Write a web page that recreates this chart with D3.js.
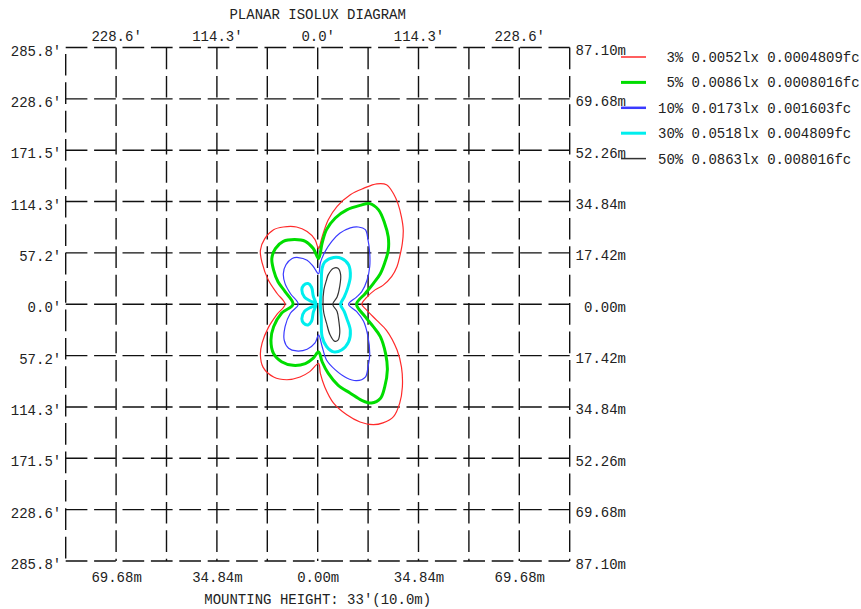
<!DOCTYPE html>
<html><head><meta charset="utf-8">
<script src="https://cdn.jsdelivr.net/npm/d3@7"></script>
<style>
html,body{margin:0;padding:0;background:#fff;}
svg{display:block;font-family:"Liberation Mono","Courier New",monospace;font-size:14px;}
text{fill:#222;white-space:pre;}
</style></head><body>
<svg id="chart" width="861" height="609"></svg>
<script>
// ---- data (feet) ----
const gridX = [-285.75,-228.6,-171.45,-114.3,-57.15,0,57.15,114.3,171.45,228.6,285.75];
const gridY = [285.75,228.6,171.45,114.3,57.15,0,-57.15,-114.3,-171.45,-228.6,-285.75];
const leftLabels = ["285.8'","228.6'","171.5'","114.3'","57.2'","0.0'","57.2'","114.3'","171.5'","228.6'","285.8'"];
const rightLabels = ["87.10m","69.68m","52.26m","34.84m","17.42m","0.00m","17.42m","34.84m","52.26m","69.68m","87.10m"];
const topTickFeet = [-228.6,-114.3,0,114.3,228.6];
const topLabels = ["228.6'","114.3'","0.0'","114.3'","228.6'"];
const bottomLabels = ["69.68m","34.84m","0.00m","34.84m","69.68m"];
const titleText = "PLANAR ISOLUX DIAGRAM";
const footerText = "MOUNTING HEIGHT: 33'(10.0m)";
const legendTexts = [" 3% 0.0052lx 0.0004809fc"," 5% 0.0086lx 0.0008016fc","10% 0.0173lx 0.001603fc","30% 0.0518lx 0.004809fc","50% 0.0863lx 0.008016fc"];

const contour3 = [[50,0],[55,7],[65,16],[74,21],[84,31],[90,42],[93,53],[96,68],[97,83],[95,97],[91,112],[86,123],[78,133],[67,134],[52,129],[37,122],[22,109],[12,94],[5,75],[1,62],[-3,72],[-12,81],[-24,86],[-39,86],[-50,83],[-60,73],[-65,60],[-63,46],[-56,27],[-46,12],[-37,0],[-46,-11],[-56,-26],[-63,-43],[-65,-56],[-62,-70],[-50,-81],[-35,-84],[-20,-81],[-9,-75],[1,-66],[3,-77],[8,-92],[18,-110],[33,-123],[48,-131],[63,-134],[74,-132],[86,-125],[93,-110],[96,-92],[95,-70],[90,-51],[78,-29],[67,-18],[55,-6]];
const contour5 = [[44,0],[54,12],[63,23],[71,34],[76,46],[80,60],[80,75],[76,90],[69,105],[59,112],[48,110],[33,105],[20,96],[10,83],[5,68],[1,51],[-5,62],[-14,70],[-26,72],[-39,70],[-48,62],[-52,51],[-50,38],[-45,25],[-37,14],[-28,0],[-41,-10],[-50,-25],[-53,-40],[-50,-55],[-41,-64],[-28,-68],[-14,-66],[-5,-60],[1,-53],[5,-64],[12,-77],[23,-90],[37,-99],[50,-107],[61,-110],[71,-105],[76,-92],[79,-73],[77,-55],[71,-36],[63,-25],[54,-14]];
const contour10 = [[35,0],[44,8],[50,14],[56,27],[59,42],[59,57],[57,72],[54,83],[46,86],[37,85],[25,79],[16,70],[8,58],[3,46],[1,34],[-5,42],[-12,49],[-22,52],[-29,51],[-36,44],[-39,34],[-37,23],[-31,12],[-22,0],[-31,-10],[-37,-25],[-38,-40],[-33,-49],[-24,-52],[-12,-50],[-3,-43],[1,-34],[5,-47],[10,-62],[20,-73],[33,-82],[44,-85],[54,-81],[57,-70],[59,-55],[57,-36],[52,-19],[44,-8]];
const contour30a = [[8,47],[18,52],[27,51],[35,44],[37,31],[34,18],[30,8],[26,0],[30,-8],[33,-16],[37,-29],[35,-42],[27,-51],[18,-53],[10,-47],[5,-36],[4,-14],[3,0],[4,16],[5,40]];
const contour30b = [[-2,0],[-5,9],[-7,19],[-11,23],[-16,21],[-18,16],[-15,8],[-9,4],[-2,0],[-9,-4],[-15,-8],[-18,-16],[-16,-21],[-11,-23],[-7,-19],[-5,-9]];
const contour50 = [[12,33],[18,40],[23,40],[26,33],[25,20],[22,8],[17,0],[22,-8],[24,-19],[25,-32],[23,-40],[19,-41],[14,-34],[10,-21],[7,-10],[6,0],[7,16],[10,27]];

// ---- styles ----
const levelColors = ["#ff2a2a","#00dd00","#3a3aff","#00eeee","#333333"];
const levelWidths = [1.2,3,1.2,3,1.2];
const legendWidths = [1.5,3,2.5,3,1.5];
const contourSets = [[contour3],[contour5],[contour10],[contour30a,contour30b],[contour50]];

const svg = d3.select("#chart");
const x = d3.scaleLinear().domain([-285.75,285.75]).range([65.7,569.7]);
const y = d3.scaleLinear().domain([285.75,-285.75]).range([47.5,561]);

// grid
const dash = "21.7,6.7";
svg.append("g").selectAll("line").data(gridY).join("line")
  .attr("x1",x(-285.75)).attr("x2",x(285.75))
  .attr("y1",d=>y(d)).attr("y2",d=>y(d))
  .attr("stroke","#111").attr("stroke-width",1.4).attr("stroke-dasharray",dash);
svg.append("g").selectAll("line").data(gridX).join("line")
  .attr("x1",d=>x(d)).attr("x2",d=>x(d))
  .attr("y1",y(285.75)).attr("y2",y(-285.75))
  .attr("stroke","#111").attr("stroke-width",1.4).attr("stroke-dasharray",dash)
  .attr("stroke-dashoffset",(d,i)=> i===0 ? 22 : 0);

// contours
const line = d3.line().x(d=>x(d[0])).y(d=>y(d[1])).curve(d3.curveCatmullRomClosed.alpha(0.5));
contourSets.forEach((set,i)=>{
  set.forEach(c=>{
    svg.append("path").attr("d",line(c)).attr("fill","none")
      .attr("stroke",levelColors[i]).attr("stroke-width",levelWidths[i])
      .attr("stroke-linejoin","round");
  });
});

// axes labels
const leftAxis = d3.axisLeft(y).tickValues(gridY).tickSize(0).tickPadding(0)
  .tickFormat((d,i)=>leftLabels[i]);
const gl = svg.append("g").attr("transform",`translate(${x(-285.75)-4.5},0)`).call(leftAxis);
gl.select(".domain").remove();
gl.selectAll("text").attr("dy","0.54em").attr("font-family",null).attr("font-size",null);
gl.attr("font-family",null).attr("font-size",null);

svg.append("g").selectAll("text").data(gridY).join("text")
  .attr("x",626).attr("y",d=>y(d)+7.5).attr("text-anchor","end")
  .text((d,i)=>rightLabels[i]);

const topAxis = d3.axisTop(x).tickValues(topTickFeet).tickSize(0).tickPadding(0)
  .tickFormat((d,i)=>topLabels[i]);
const gt = svg.append("g").attr("transform","translate(0,41)").call(topAxis);
gt.select(".domain").remove();
gt.selectAll("text").attr("dy",null).attr("y",0);
gt.attr("font-family",null).attr("font-size",null);

const bottomAxis = d3.axisBottom(x).tickValues(topTickFeet).tickSize(0).tickPadding(0)
  .tickFormat((d,i)=>bottomLabels[i]);
const gb = svg.append("g").attr("transform","translate(0,582)").call(bottomAxis);
gb.select(".domain").remove();
gb.selectAll("text").attr("dy",null).attr("y",0);
gb.attr("font-family",null).attr("font-size",null);

svg.selectAll(".tick text").attr("fill","#222");

svg.append("text").attr("x",317.7).attr("y",19).attr("text-anchor","middle").text(titleText);
svg.append("text").attr("x",317.7).attr("y",604).attr("text-anchor","middle").text(footerText);

// legend
const lg = svg.append("g");
legendTexts.forEach((t,i)=>{
  const ly = 57 + i*25.4;
  lg.append("line").attr("x1",621).attr("x2",646).attr("y1",ly).attr("y2",ly)
    .attr("stroke",levelColors[i]).attr("stroke-width",legendWidths[i]);
  lg.append("text").attr("x",658).attr("y",ly+5).text(t);
});
</script>
</body></html>
